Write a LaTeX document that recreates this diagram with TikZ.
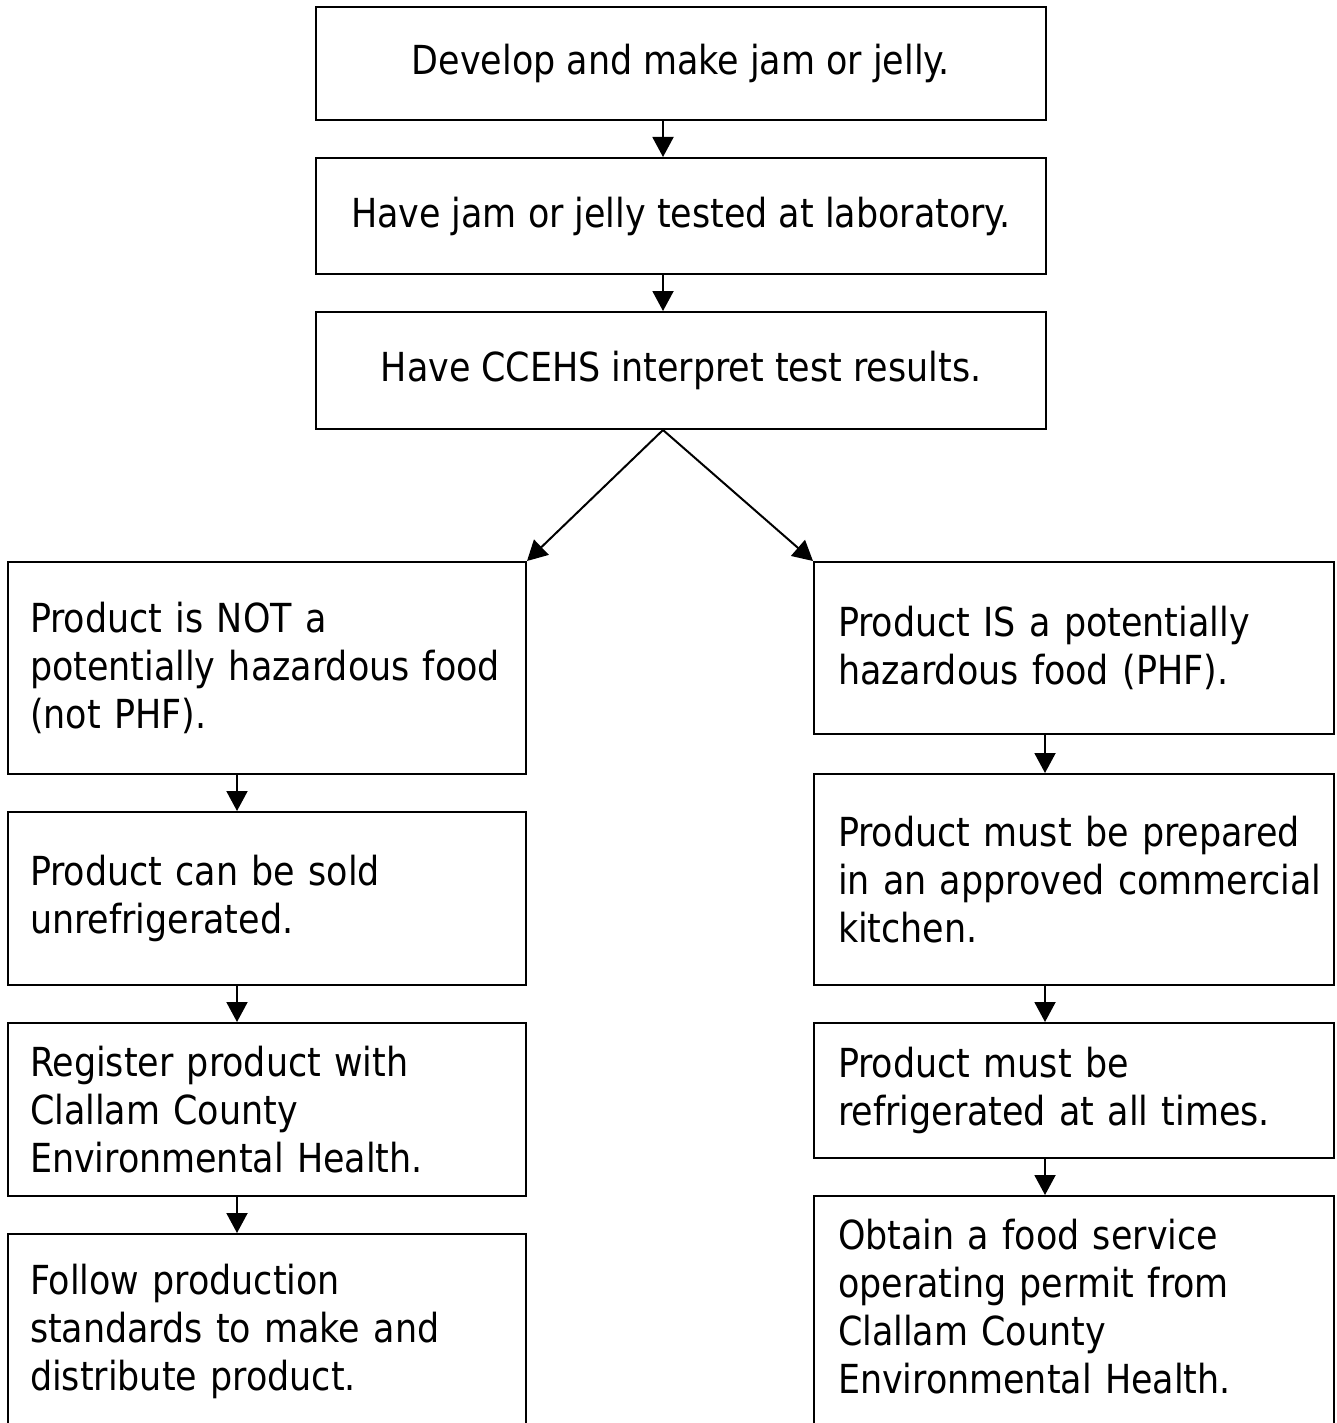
\documentclass[tikz,border=0pt]{standalone}
\usepackage{fontspec}
\setmainfont{DejaVu Sans Condensed}[FakeStretch=0.97]
\usetikzlibrary{arrows.meta}
\begin{document}
\begin{tikzpicture}[x=1pt,y=-1pt,
  box/.style={draw,line width=2pt,rectangle,inner sep=0pt,font=\fontsize{40}{48}\selectfont},
  topbox/.style={box,minimum width=730pt,align=center},
  sidebox/.style={box,minimum width=518pt,text width=474pt,align=left},
  rbox/.style={sidebox,minimum width=520pt,text width=472pt},
  arr/.style={line width=2pt,-{Triangle[length=20pt,width=21pt]}}]
\useasboundingbox (0,0) rectangle (1336,1423);
\node[topbox,minimum height=113pt] (b1) at (681,63.5) {Develop and make jam or jelly.};
\node[topbox,minimum height=116pt] (b2) at (681,216) {Have jam or jelly tested at laboratory.};
\node[topbox,minimum height=117pt] (b3) at (681,370.5) {Have CCEHS interpret test results.};
\node[sidebox,minimum height=212pt] (l1) at (267,668) {\mbox{Product is NOT a}\\\mbox{potentially hazardous food}\\\mbox{(not PHF).}};
\node[sidebox,minimum height=173pt] (l2) at (267,898.5) {\mbox{Product can be sold}\\\mbox{unrefrigerated.}};
\node[sidebox,minimum height=173pt] (l3) at (267,1109.5) {\mbox{Register product with}\\\mbox{Clallam County}\\\mbox{Environmental Health.}};
\node[sidebox,minimum height=234pt] (l4) at (267,1351) {\mbox{Follow production}\\\mbox{standards to make and}\\\mbox{distribute product.}\\\mbox{}};
\node[rbox,minimum height=172pt] (r1) at (1074,648) {\mbox{Product IS a potentially}\\\mbox{hazardous food (PHF).}};
\node[rbox,minimum height=211pt] (r2) at (1074,879.5) {\mbox{Product must be prepared}\\\mbox{in an approved commercial}\\\mbox{kitchen.}};
\node[rbox,minimum height=135pt] (r3) at (1074,1090.5) {\mbox{Product must be}\\\mbox{refrigerated at all times.}};
\node[rbox,minimum height=268pt] (r4) at (1074,1330) {\mbox{Obtain a food service}\\\mbox{operating permit from}\\\mbox{Clallam County}\\\mbox{Environmental Health.}\\\mbox{}};
\coordinate (cx) at (663,0);
\coordinate (lx) at (237,0);
\coordinate (rx) at (1045,0);
\draw[arr] (b1.south -| cx) -- (b2.north -| cx);
\draw[arr] (b2.south -| cx) -- (b3.north -| cx);
\draw[arr] (b3.south -| cx) -- (l1.north east);
\draw[arr] (b3.south -| cx) -- (r1.north west);
\draw[arr] (l1.south -| lx) -- (l2.north -| lx);
\draw[arr] (l2.south -| lx) -- (l3.north -| lx);
\draw[arr] (l3.south -| lx) -- (l4.north -| lx);
\draw[arr] (r1.south -| rx) -- (r2.north -| rx);
\draw[arr] (r2.south -| rx) -- (r3.north -| rx);
\draw[arr] (r3.south -| rx) -- (r4.north -| rx);
\end{tikzpicture}
\end{document}
